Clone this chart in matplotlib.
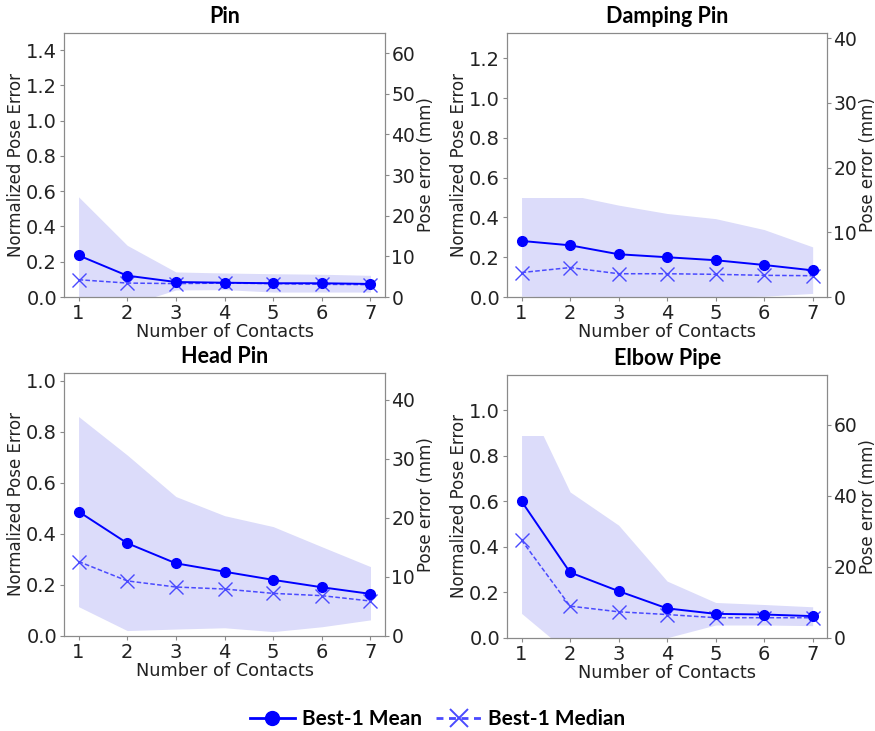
import numpy as np
import matplotlib.pyplot as plt
from matplotlib.lines import Line2D
from matplotlib.patches import Rectangle

# number of contacts
contacts = [1, 2, 3, 4, 5, 6, 7]

titles = ["Pin", "Damping Pin", "Head Pin", "Elbow Pipe"]

# normalized pose error
pin_mean = [0.236, 0.121, 0.085, 0.081, 0.078, 0.078, 0.074]
pin_median = [0.098, 0.079, 0.076, 0.079, 0.076, 0.072, 0.070]
pin_upper = [0.568, 0.293, 0.142, 0.136, 0.132, 0.129, 0.123]
pin_lower = [-0.10, -0.047, 0.040, 0.042, 0.028, 0.028, 0.028]

damp_mean = [0.282, 0.260, 0.215, 0.200, 0.185, 0.161, 0.134]
damp_median = [0.123, 0.148, 0.117, 0.117, 0.114, 0.109, 0.107]
damp_upper = [0.560, 0.513, 0.462, 0.420, 0.394, 0.339, 0.252]
damp_lower = [0.004, 0.0, 0.0, 0.0, 0.0, 0.004, 0.018]

head_mean = [0.487, 0.363, 0.284, 0.251, 0.219, 0.190, 0.164]
head_median = [0.291, 0.215, 0.191, 0.183, 0.166, 0.157, 0.136]
head_upper = [0.860, 0.709, 0.546, 0.471, 0.428, 0.349, 0.271]
head_lower = [0.114, 0.020, 0.026, 0.031, 0.016, 0.035, 0.062]

elbow_mean = [0.600, 0.287, 0.205, 0.129, 0.105, 0.102, 0.095]
elbow_median = [0.429, 0.139, 0.114, 0.102, 0.088, 0.088, 0.088]
elbow_upper = [1.088, 0.641, 0.495, 0.249, 0.155, 0.146, 0.136]
elbow_lower = [0.107, -0.071, -0.050, 0.0, 0.056, 0.056, 0.053]

means = [pin_mean, damp_mean, head_mean, elbow_mean]
medians = [pin_median, damp_median, head_median, elbow_median]
uppers = [pin_upper, damp_upper, head_upper, elbow_upper]
lowers = [pin_lower, damp_lower, head_lower, elbow_lower]
band_caps = [1.0, 0.498, 1.0, 0.887]

# axis ranges
left_top = [1.496, 1.327, 1.031, 1.155]
right_top = [64.9, 40.8, 44.55, 74.1]
left_ticks = [np.arange(0, 1.41, 0.2), np.arange(0, 1.21, 0.2),
              np.arange(0, 1.01, 0.2), np.arange(0, 1.01, 0.2)]
right_ticks = [[0, 10, 20, 30, 40, 50, 60], [0, 10, 20, 30, 40],
               [0, 10, 20, 30, 40], [0, 20, 40, 60]]

# axes rectangles in figure fraction
positions = [
    [0.0731, 0.5937, 0.367, 0.361],
    [0.5794, 0.5937, 0.366, 0.361],
    [0.0731, 0.1304, 0.367, 0.3594],
    [0.5794, 0.1276, 0.366, 0.3594],
]

blue = "#0000ff"
median_blue = "#4a4aff"
band_color = "#dcdcfa"
spine_gray = "#8a8a8a"
text_color = "#222222"
title_font = ["Lato", "DejaVu Sans"]

fig = plt.figure(figsize=(8.75, 7.31), dpi=100)

for i in range(4):
    ax = fig.add_axes(positions[i])
    band = ax.fill_between(contacts, lowers[i], uppers[i], color=band_color,
                           linewidth=0, zorder=1)
    # keep the band between 0 and its cap
    band.set_clip_path(Rectangle((0, 0), 10, band_caps[i],
                                 transform=ax.transData))
    ax.plot(contacts, means[i], color=blue, marker="o", markersize=7,
            linewidth=1.4, zorder=3)
    ax.plot(contacts, medians[i], color=median_blue, marker="x", markersize=10,
            markeredgewidth=1.0, linewidth=1.1, linestyle=(0, (3, 1.5)),
            zorder=2)
    ax.set_xlim(0.7, 7.3)
    ax.set_ylim(0, left_top[i])
    ax.set_xticks(contacts)
    ax.set_yticks(left_ticks[i])
    ax.set_yticklabels(["%.1f" % t for t in left_ticks[i]])
    ax.tick_params(labelsize=14, color=spine_gray, labelcolor=text_color,
                   length=3, pad=2)
    ax.set_xlabel("Number of Contacts", fontsize=12.8, color=text_color, labelpad=0)
    ax.set_ylabel("Normalized Pose Error", fontsize=12, color=text_color, labelpad=1)
    ax.set_title(titles[i], fontsize=15.5, fontweight="bold", family=title_font, pad=7)

    ax2 = ax.twinx()
    ax2.set_ylim(0, right_top[i])
    ax2.set_yticks(right_ticks[i])
    ax2.tick_params(labelsize=13.5, color=spine_gray, labelcolor=text_color,
                    length=3, pad=1.5)
    ax2.set_ylabel("Pose error (mm)", fontsize=12, color=text_color, labelpad=1)
    for a in (ax, ax2):
        for s in a.spines.values():
            s.set_color(spine_gray)

handles = [
    Line2D([], [], color=blue, marker="o", markersize=10, linewidth=2),
    Line2D([], [], color=median_blue, marker="x", markersize=13,
           markeredgewidth=1.4, linewidth=2, linestyle=(0, (2.5, 2))),
]
fig.legend(handles, ["Best-1 Mean", "Best-1 Median"], loc="center",
           bbox_to_anchor=(0.5, 0.016), ncol=2, frameon=False, handlelength=2.2,
           columnspacing=0.7, handletextpad=0.3,
           prop={"family": title_font, "weight": "bold", "size": 15})

fig.savefig("out.png", dpi=100)
